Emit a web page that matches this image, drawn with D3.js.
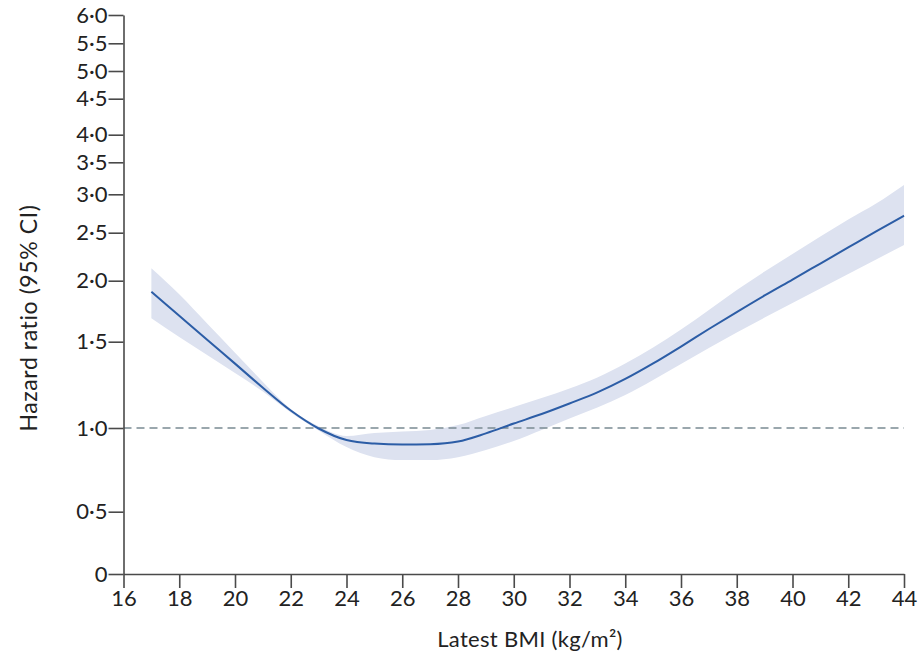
<!DOCTYPE html>
<html>
<head>
<meta charset="utf-8">
<script src="https://cdn.jsdelivr.net/npm/d3@7"></script>
<style>
  body { margin: 0; background: #fff; }
  svg text { font-family: Lato, "Open Sans", sans-serif; fill: #222; }
  .axis path, .axis line { stroke: #4a4a4a; stroke-width: 1.6; }
</style>
</head>
<body>
<script>
// BMI values (kg/m2) where the curve was read
var bmi = [17, 18, 19, 20, 21, 22, 23, 24, 25, 26, 27, 28, 29, 30,
           31, 32, 33, 34, 35, 36, 37, 38, 39, 40, 41, 42, 43, 44];
// hazard ratio, point estimate
var hr = [1.91, 1.713, 1.516, 1.373, 1.233, 1.101, 0.997, 0.928, 0.907, 0.901, 0.903, 0.919, 0.968, 1.026,
          1.081, 1.142, 1.206, 1.284, 1.374, 1.472, 1.604, 1.743, 1.879, 2.012, 2.179, 2.346, 2.516, 2.721];
// upper 95% CI
var hrUpper = [2.129, 1.888, 1.649, 1.436, 1.267, 1.110, 1.010, 0.952, 0.970, 0.979, 0.988, 1.017, 1.070, 1.122,
               1.174, 1.229, 1.293, 1.374, 1.467, 1.600, 1.760, 1.924, 2.096, 2.278, 2.460, 2.672, 2.879, 3.145];
// lower 95% CI
var hrLower = [1.692, 1.539, 1.423, 1.319, 1.211, 1.090, 0.985, 0.886, 0.826, 0.809, 0.809, 0.826, 0.869, 0.922,
               0.988, 1.055, 1.119, 1.191, 1.278, 1.371, 1.463, 1.575, 1.698, 1.817, 1.936, 2.070, 2.221, 2.372];

var xTicks = [16, 18, 20, 22, 24, 26, 28, 30, 32, 34, 36, 38, 40, 42, 44];
var yTicks = [0, 0.5, 1.0, 1.5, 2.0, 2.5, 3.0, 3.5, 4.0, 4.5, 5.0, 5.5, 6.0];
// the printed axis is not evenly spaced: pixel row of each tick
var yTickRows = [574, 511.7, 428, 341.7, 280.7, 232.7, 194.3, 162.3, 134.7, 98.7, 71, 43.3, 15];

var width = 923, height = 655;

var svg = d3.select("body").append("svg")
  .attr("width", width)
  .attr("height", height);

var x = d3.scaleLinear().domain([16, 44]).range([123.5, 904]);
var y = d3.scaleLinear().domain(yTicks).range(yTickRows);

var rows = bmi.map(function (b, i) {
  return { bmi: b, hr: hr[i], lo: hrLower[i], hi: hrUpper[i] };
});

// confidence band
var band = d3.area()
  .curve(d3.curveMonotoneX)
  .x(function (d) { return x(d.bmi); })
  .y0(function (d) { return y(d.lo); })
  .y1(function (d) { return y(d.hi); });

svg.append("path")
  .datum(rows)
  .attr("fill", "#dde2f0")
  .attr("d", band);

// reference line at HR = 1
svg.append("line")
  .attr("x1", x(16)).attr("x2", x(44))
  .attr("y1", y(1)).attr("y2", y(1))
  .attr("stroke", "#7a8a92")
  .attr("stroke-width", 1.6)
  .attr("stroke-dasharray", "8,5");

// estimate
var line = d3.line()
  .curve(d3.curveMonotoneX)
  .x(function (d) { return x(d.bmi); })
  .y(function (d) { return y(d.hr); });

svg.append("path")
  .datum(rows)
  .attr("fill", "none")
  .attr("stroke", "#2c5da6")
  .attr("stroke-width", 2)
  .attr("d", line);

// axes
var fmt = function (d) {
  return d === 0 ? "0" : d.toFixed(1).replace(".", "\u00b7");
};

var yAxis = svg.append("g")
  .attr("class", "axis")
  .attr("transform", "translate(" + x(16) + ",0)")
  .call(d3.axisLeft(y).tickValues(yTicks).tickFormat(fmt)
    .tickSize(15).tickSizeOuter(0).tickPadding(1));

var xAxis = svg.append("g")
  .attr("class", "axis")
  .attr("transform", "translate(0," + y(0) + ")")
  .call(d3.axisBottom(x).tickValues(xTicks)
    .tickSize(14).tickSizeOuter(0).tickPadding(3));

svg.selectAll(".axis text")
  .style("font-size", "22px")
  .attr("fill", "#222");

xAxis.selectAll("text").attr("dy", "0.7em");

// axis titles
svg.append("text")
  .attr("x", 530)
  .attr("y", 647)
  .attr("text-anchor", "middle")
  .style("font-size", "22px")
  .style("letter-spacing", "0.3px")
  .text("Latest BMI (kg/m\u00b2)");

svg.append("text")
  .attr("transform", "translate(37,318) rotate(-90)")
  .attr("text-anchor", "middle")
  .style("font-size", "23px")
  .style("letter-spacing", "0.6px")
  .text("Hazard ratio (95% CI)");
</script>
</body>
</html>
